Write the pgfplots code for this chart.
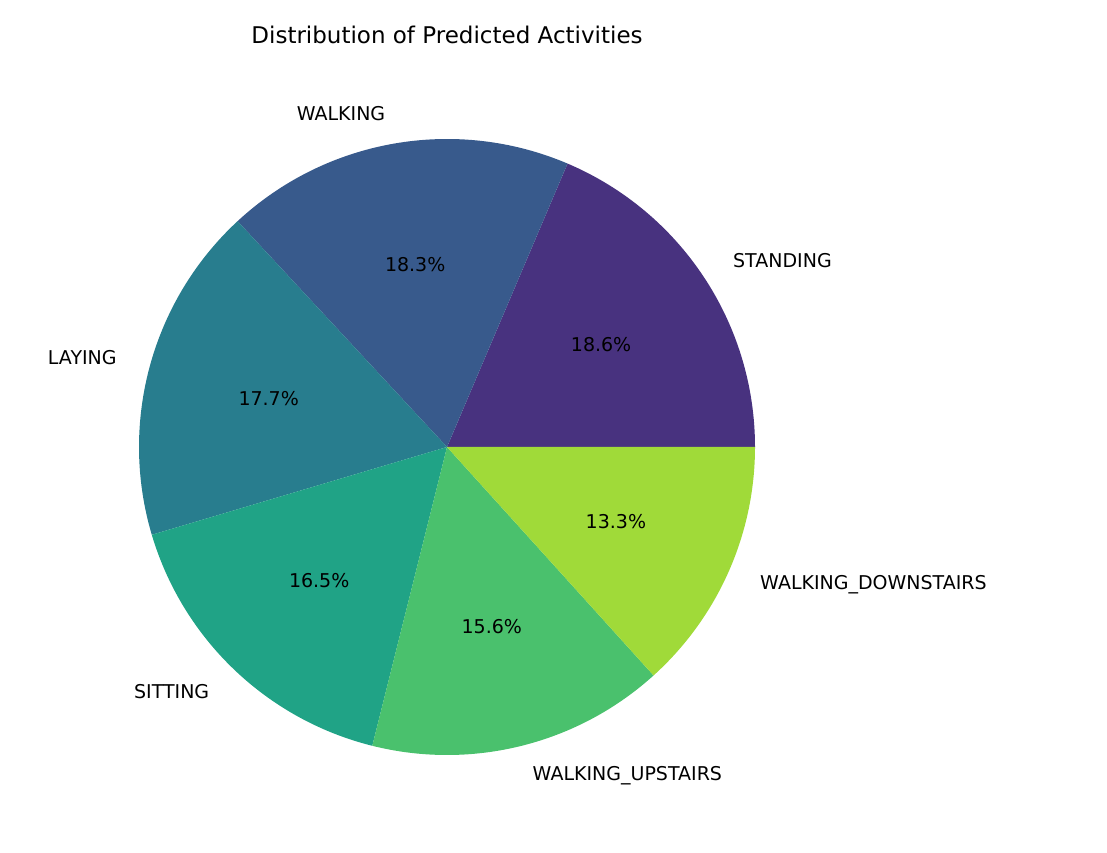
\documentclass[border=0pt]{standalone}
\usepackage{pgfplots}
\pgfplotsset{compat=1.18}
\usepackage{fontspec}
\setmainfont{DejaVu Sans}
\definecolor{c1}{HTML}{48327F}
\definecolor{c2}{HTML}{385A8C}
\definecolor{c3}{HTML}{287D8E}
\definecolor{c4}{HTML}{20A386}
\definecolor{c5}{HTML}{4AC16D}
\definecolor{c6}{HTML}{A0DA39}
\begin{document}
\begin{tikzpicture}
\begin{axis}[scale only axis, width=1107pt, height=852pt, xmin=0, xmax=1107, ymin=0, ymax=852, hide axis, clip=false,
  nodes={font=\fontsize{19}{22}\selectfont}]
\addplot[draw=none] coordinates {(0,0) (1107,852)};
\fill[c1] (axis cs:447,405) -- ++(0:308pt) arc[start angle=0,end angle=66.96,radius=308pt] -- cycle;
\fill[c2] (axis cs:447,405) -- ++(66.96:308pt) arc[start angle=66.96,end angle=132.84,radius=308pt] -- cycle;
\fill[c3] (axis cs:447,405) -- ++(132.84:308pt) arc[start angle=132.84,end angle=196.56,radius=308pt] -- cycle;
\fill[c4] (axis cs:447,405) -- ++(196.56:308pt) arc[start angle=196.56,end angle=255.96,radius=308pt] -- cycle;
\fill[c5] (axis cs:447,405) -- ++(255.96:308pt) arc[start angle=255.96,end angle=312.12,radius=308pt] -- cycle;
\fill[c6] (axis cs:447,405) -- ++(312.12:308pt) arc[start angle=312.12,end angle=360,radius=308pt] -- cycle;
\node[anchor=west] at (axis cs:729.6,591.9) {STANDING};
\node[anchor=east] at (axis cs:388.7,738.8) {WALKING};
\node[anchor=east] at (axis cs:120.2,494.4) {LAYING};
\node[anchor=east] at (axis cs:212.7,160.2) {SITTING};
\node[anchor=west] at (axis cs:529.2,76.3) {WALKING\_UPSTAIRS};
\node[anchor=west] at (axis cs:756.7,267.5) {WALKING\_DOWNSTAIRS};
\node at (axis cs:601.1,507.0) {18.6\%};
\node at (axis cs:415.2,587.0) {18.3\%};
\node at (axis cs:268.7,453.8) {17.7\%};
\node at (axis cs:319.2,271.5) {16.5\%};
\node at (axis cs:491.8,225.7) {15.6\%};
\node at (axis cs:615.9,330.0) {13.3\%};
\node[font=\fontsize{23}{27}\selectfont] at (axis cs:447,817) {Distribution of Predicted Activities};
\end{axis}
\end{tikzpicture}
\end{document}
